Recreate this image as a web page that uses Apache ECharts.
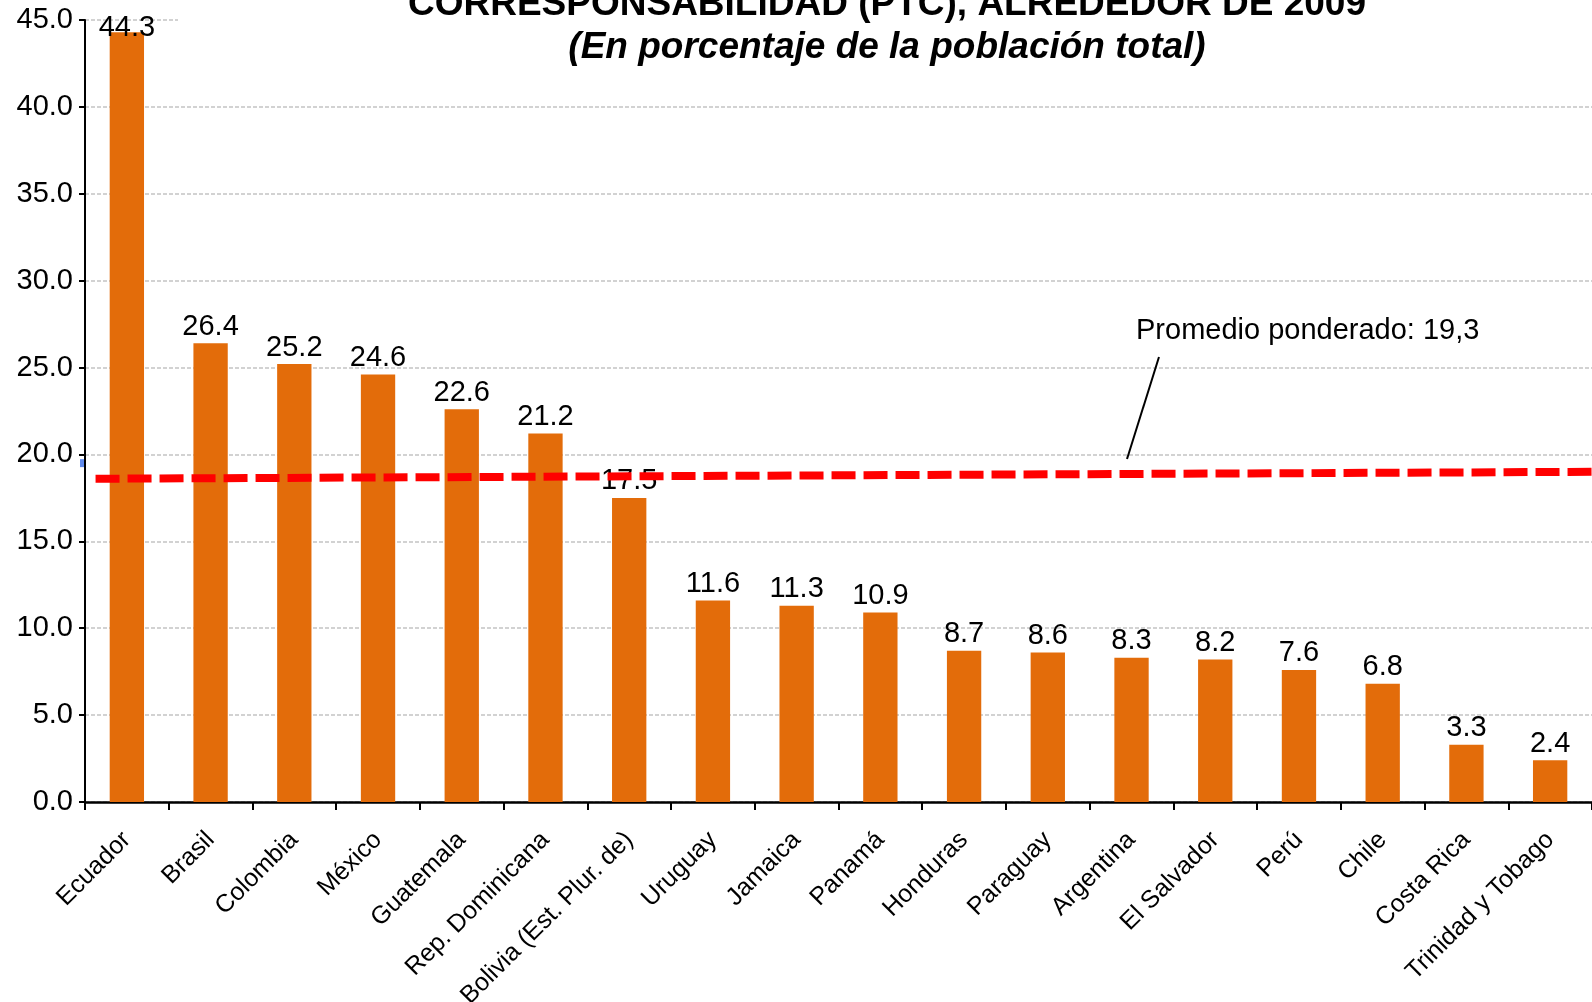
<!DOCTYPE html>
<html>
<head>
<meta charset="utf-8">
<script src="https://cdn.jsdelivr.net/npm/echarts@6/dist/echarts.min.js"></script>
<style>
  html, body { margin: 0; padding: 0; background: #fff; }
  #main { width: 1592px; height: 1002px; }
</style>
</head>
<body>
<div id="main"></div>
<script>
// paises y porcentaje de poblacion en PTC
var categories = ['Ecuador', 'Brasil', 'Colombia', 'México', 'Guatemala', 'Rep. Dominicana',
  'Bolivia (Est. Plur. de)', 'Uruguay', 'Jamaica', 'Panamá', 'Honduras', 'Paraguay',
  'Argentina', 'El Salvador', 'Perú', 'Chile', 'Costa Rica', 'Trinidad y Tobago'];
var values = [44.3, 26.4, 25.2, 24.6, 22.6, 21.2, 17.5, 11.6, 11.3, 10.9, 8.7, 8.6, 8.3, 8.2, 7.6, 6.8, 3.3, 2.4];
// linea del promedio (ligeramente inclinada en el original)
var avgX = [0.007, 1];
var avgY = [18.6, 19.0];
var blueMark = [[-0.002, 19.5]];
var yMin = 0, yMax = 45, yStep = 5;

var FONT = '"Liberation Sans", Arial, sans-serif';

// la etiqueta de la barra mas alta queda encima de la barra, como en el original
var barData = values.map(function (v) {
  if (v > 40) {
    return { value: v, label: { distance: -10 } };
  }
  return v;
});

var myChart = echarts.init(document.getElementById('main'));
var option = {
  backgroundColor: '#fff',
  animation: false,
  title: {
    text: 'CORRESPONSABILIDAD (PTC), ALREDEDOR DE 2009',
    subtext: '(En porcentaje de la población total)',
    left: 887,
    textAlign: 'center',
    top: -14,
    itemGap: 6,
    padding: 0,
    textStyle: { fontFamily: FONT, fontSize: 37, fontWeight: 'bold', color: '#000' },
    subtextStyle: { fontFamily: FONT, fontSize: 37, fontWeight: 'bold', fontStyle: 'italic', color: '#000' }
  },
  grid: { left: 85, right: 0, top: 20, bottom: 200, containLabel: false, outerBoundsMode: 'none' },
  xAxis: [
    {
      type: 'category',
      data: categories,
      boundaryGap: true,
      axisLine: { lineStyle: { color: '#000', width: 2.5 } },
      axisTick: { show: true, length: 8, lineStyle: { color: '#000', width: 2 } },
      axisLabel: {
        rotate: 45,
        interval: 0,
        margin: 34,
        fontFamily: FONT,
        fontSize: 25,
        color: '#000'
      }
    },
    {
      type: 'value',
      min: 0,
      max: 1,
      show: false
    }
  ],
  yAxis: {
    type: 'value',
    min: yMin,
    max: yMax,
    interval: yStep,
    axisLine: { show: true, lineStyle: { color: '#000', width: 2 } },
    axisTick: { show: true, length: 6, lineStyle: { color: '#000', width: 2 } },
    axisLabel: {
      margin: 12,
      fontFamily: FONT,
      fontSize: 29,
      color: '#000',
      formatter: function (v) { return v.toFixed(1); }
    },
    splitLine: { show: true, lineStyle: { color: '#c4c4c4', type: [4, 2], width: 1.5 } }
  },
  series: [
    {
      name: 'PTC',
      type: 'bar',
      data: barData,
      barWidth: '41%',
      itemStyle: { color: '#E36C0A' },
      label: {
        show: true,
        position: 'top',
        distance: 2,
        fontFamily: FONT,
        fontSize: 29,
        color: '#000',
        formatter: function (p) { return p.value.toFixed(1); }
      },
      z: 2
    },
    {
      name: 'Promedio ponderado',
      type: 'line',
      xAxisIndex: 1,
      data: avgX.map(function (x, i) { return [x, avgY[i]]; }),
      symbol: 'none',
      lineStyle: { color: '#ff0000', width: 8, type: [24, 8] },
      z: 3
    },
    {
      type: 'scatter',
      xAxisIndex: 1,
      data: blueMark,
      symbol: 'rect',
      symbolSize: [4, 8],
      itemStyle: { color: '#3a6ee8' },
      clip: false,
      silent: true
    }
  ],
  graphic: [
    {
      // tapa la linea de 45 detras del titulo
      type: 'rect',
      shape: { x: 178, y: 0, width: 1414, height: 28 },
      style: { fill: '#fff' },
      z: 1
    },
    {
      type: 'text',
      left: 1136,
      top: 316,
      style: { text: 'Promedio ponderado: 19,3', font: '29px ' + FONT, fill: '#000' },
      z: 10
    },
    {
      type: 'line',
      shape: { x1: 1159, y1: 357, x2: 1127, y2: 459 },
      style: { stroke: '#000', lineWidth: 2 },
      z: 10
    }
  ]
};
myChart.setOption(option);
window.onresize = function () {
  myChart.resize();
};
</script>
</body>
</html>
